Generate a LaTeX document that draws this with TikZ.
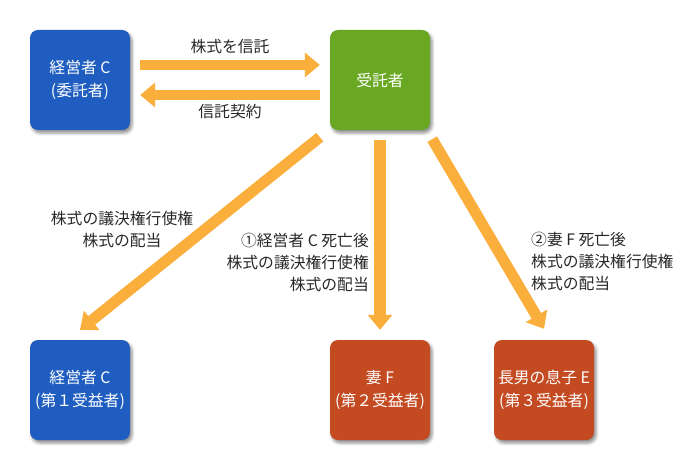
\documentclass[tikz,border=0pt]{standalone}
\usepackage{fontspec}
\setmainfont{Noto Sans CJK JP}
\usepackage{xcolor}
\usepackage{tikz}
\usetikzlibrary{arrows.meta,positioning,shadows.blur}
\definecolor{settlorblue}{RGB}{31,94,192}
\definecolor{trusteegreen}{RGB}{106,168,35}
\definecolor{heirred}{RGB}{196,74,34}
\definecolor{floworange}{RGB}{250,174,60}
\definecolor{labelgray}{RGB}{40,40,40}

\begin{document}
\begin{tikzpicture}[
  x=1pt, y=-1pt,
  party/.style={rounded corners=8pt, minimum width=100pt, minimum height=100pt,
    inner sep=0pt, align=center, text=white,
    font=\fontsize{15.8pt}{22.5pt}\selectfont,
    blur shadow={shadow xshift=2pt, shadow yshift=-3pt, shadow blur radius=3pt, shadow opacity=45}},
  blue/.style={party, fill=settlorblue},
  green/.style={party, fill=trusteegreen},
  red/.style={party, fill=heirred},
  note/.style={text=labelgray, font=\fontsize{15.8pt}{22pt}\selectfont, inner sep=0pt},
  flow/.style={-{Triangle[width=24pt,length=15pt]}, draw=floworange, line width=11pt}
]
\useasboundingbox (0,0) rectangle (700,470);
\node[blue] (settlor) at (80,80) {経営者 C\\(委託者)};
\node[green] (trustee) at (380,80) {受託者};
\node[blue] (ben1) at (80,390) {経営者 C\\(第１受益者)};
\node[red] (ben2) at (380,390) {妻 F\\(第２受益者)};
\node[red] (ben3) at (544,390) {長男の息子 E\\(第３受益者)};
\draw[flow, line width=10pt, shorten <=10pt, shorten >=10pt]
  ([yshift=15pt]settlor.east) -- ([yshift=15pt]trustee.west);
\draw[flow, line width=10pt, shorten <=10pt, shorten >=10pt]
  ([yshift=-15pt]trustee.west) -- ([yshift=-15pt]settlor.east);
\draw[flow] ([xshift=-10pt,yshift=-7pt]trustee.south west) -- ([yshift=10pt]ben1.north);
\draw[flow, line width=12pt] ([yshift=-10pt]trustee.south) -- ([yshift=10pt]ben2.north);
\draw[flow] ([xshift=2pt,yshift=-9pt]trustee.south east) -- ([yshift=11pt]ben3.north);
\node[note] (entrust) at (230,47) {株式を信託};
\node[note] (contract) at (230,112) {信託契約};
\node[note, align=center] (rights1) at (122,229) {株式の議決権行使権\\株式の配当};
\node[note, align=right, anchor=east] (rights2) at (369,262) {①経営者 C 死亡後\\株式の議決権行使権\\株式の配当};
\node[note, align=left, anchor=west] (rights3) at (531,261) {②妻 F 死亡後\\株式の議決権行使権\\株式の配当};
\end{tikzpicture}
\end{document}
